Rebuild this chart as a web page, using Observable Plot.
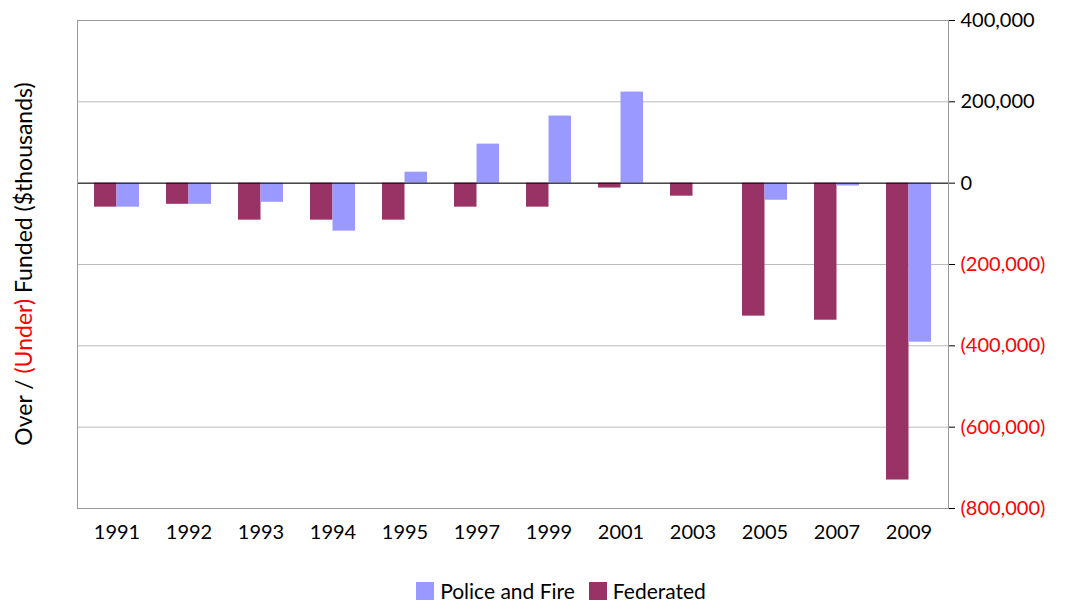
<!DOCTYPE html>
<html><head><meta charset="utf-8">
<script src="https://cdn.jsdelivr.net/npm/d3@7"></script>
<script src="https://cdn.jsdelivr.net/npm/@observablehq/plot@0.6"></script>
<style>
body{margin:0;background:#fff;font-family:Lato,"DejaVu Sans",sans-serif}
#legend{display:flex;justify-content:center;gap:14px;font-size:21px;margin-top:18px;padding-left:40px}
#legend span{display:flex;align-items:center;gap:6px}
#legend i{display:inline-block;width:18px;height:18px}
</style></head><body>
<div id="chart"></div>
<div id="legend"><span><i style="background:#9999FF"></i>Police and Fire</span><span><i style="background:#993366"></i>Federated</span></div>
<script>
const years = ["1991","1992","1993","1994","1995","1997","1999","2001","2003","2005","2007","2009"];
const federated = [-59000,-52000,-91000,-91000,-91000,-59000,-59000,-12000,-32000,-327000,-337000,-730000];
const policeFire = [-59000,-52000,-47000,-118000,27000,96000,165000,224000,0,-42000,-7000,-391000];
const yTicks = [400000,200000,0,-200000,-400000,-600000,-800000];

const fedData = years.map((y,i)=>({year:y,value:federated[i]}));
const pfData = years.map((y,i)=>({year:y,value:policeFire[i]}));
const fmt = v => v < 0 ? "(" + d3.format(",")(-v) + ")" : d3.format(",")(v);
const half = 22.5;

const chart = Plot.plot({
  width:1082, height:560,
  marginLeft:77, marginRight:134, marginTop:20, marginBottom:52,
  style:{fontFamily:"Lato, 'DejaVu Sans', sans-serif", fontSize:"20px", color:"#000", background:"#fff"},
  x:{domain:years, paddingInner:0.38, paddingOuter:0.19, label:null, tickSize:0, tickPadding:16},
  y:{domain:[-800000,400000], axis:null, label:null},
  marks:[
    Plot.gridY(yTicks.slice(1,-1),{stroke:"#bbb",strokeOpacity:1}),
    Plot.barY(fedData,{x:"year",y:"value",fill:"#993366",insetRight:half}),
    Plot.barY(pfData,{x:"year",y:"value",fill:"#9999FF",insetLeft:half}),
    Plot.ruleY([0],{stroke:"#000"}),
    Plot.frame({stroke:"#999"}),
    Plot.axisY(yTicks,{anchor:"right",tickFormat:fmt,tickSize:6,tickPadding:6,label:null,
      fill:d=>d<0?"#ff0000":"#000",fontSize:20})
  ]
});
d3.select("#chart").append(()=>chart);

const svg = d3.select(chart);
const t = svg.append("text")
  .attr("transform","translate(32,264) rotate(-90)")
  .attr("text-anchor","middle")
  .style("font-size","23px");
t.append("tspan").text("Over / ");
t.append("tspan").attr("fill","#ff0000").text("(Under)");
t.append("tspan").text(" Funded ($thousands)");
</script></body></html>
